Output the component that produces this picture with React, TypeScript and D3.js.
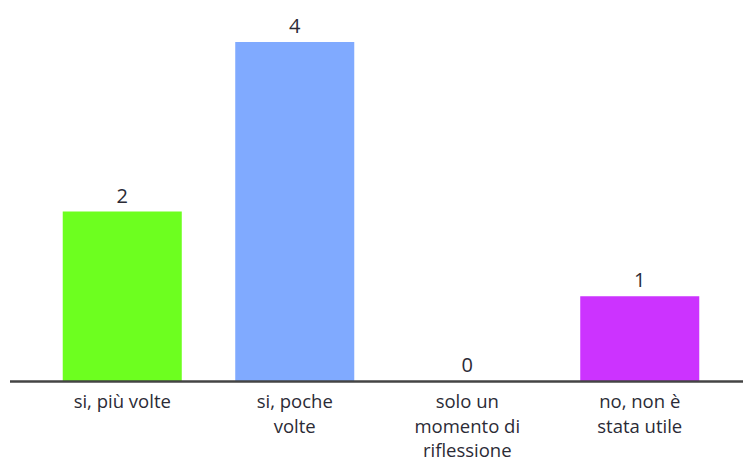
import React from "react";
import * as d3 from "d3";

const categories = ["si, più volte", "si, poche volte", "solo un momento di riflessione", "no, non è stata utile"];
const categoryLines = [["si, più volte"], ["si, poche", "volte"], ["solo un", "momento di", "riflessione"], ["no, non è", "stata utile"]];
const values = [2, 4, 0, 1];
const colors = ["#6dff1f", "#80aaff", "#cccccc", "#cc33ff"];

export default function App() {
  const width = 743;
  const height = 461;
  const baseline = 381;
  const x = d3.scaleBand<string>().domain(categories).range([36, 726]).paddingInner(0.31).paddingOuter(0.155);
  const y = d3.scaleLinear().domain([0, 4]).range([baseline, 42]);
  const font = "'Open Sans', sans-serif";
  return (
    <svg width={width} height={height} style={{ position: "absolute", left: 0, top: 0, background: "#fff" }}>
      {categories.map((c, i) => (
        <g key={c}>
          {values[i] > 0 && (
            <rect x={x(c)} y={y(values[i])} width={x.bandwidth()} height={baseline - y(values[i])} fill={colors[i]} />
          )}
          <text x={(x(c) ?? 0) + x.bandwidth() / 2} y={y(values[i]) - 9} textAnchor="middle" fontFamily={font} fontSize={20} fill="#2b2b36">
            {values[i]}
          </text>
          {categoryLines[i].map((line, j) => (
            <text key={j} x={(x(c) ?? 0) + x.bandwidth() / 2} y={408 + j * 24.5} textAnchor="middle" fontFamily={font} fontSize={18.5} fill="#2b2b36">
              {line}
            </text>
          ))}
        </g>
      ))}
      <line x1={10} x2={743} y1={baseline + 0.5} y2={baseline + 0.5} stroke="#444" strokeWidth={2.5} />
    </svg>
  );
}
